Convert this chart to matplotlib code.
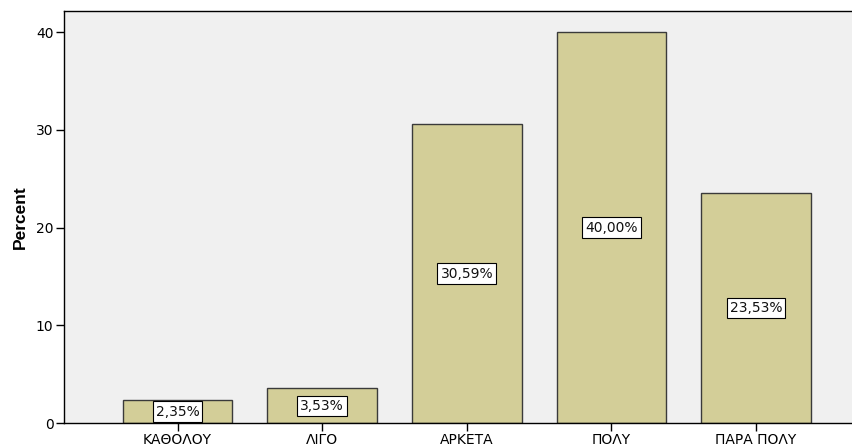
import matplotlib
matplotlib.use("Agg")
import matplotlib.pyplot as plt

categories = ["ΚΑΘΟΛΟΥ", "ΛΙΓΟ", "ΑΡΚΕΤΑ", "ΠΟΛΥ", "ΠΑΡΑ ΠΟΛΥ"]
percent = [2.35, 3.53, 30.59, 40.00, 23.53]
y_ticks = [0, 10, 20, 30, 40]

plt.rcParams["font.family"] = ["DejaVu Sans"]

fig = plt.figure(figsize=(8.53, 4.48), dpi=100)
ax = fig.add_axes([0.075, 0.0558, 0.93, 0.9196])
ax.set_facecolor("#F0F0F0")

x = list(range(len(categories)))
ax.bar(x, percent, width=0.757, color="#D3CE98", edgecolor="#3A3A3A", linewidth=1.0, zorder=2)

for xi, v in zip(x, percent):
    label = f"{v:.2f}%".replace(".", ",")
    ax.text(xi, v / 2, label, ha="center", va="center", fontsize=10, color="#111111", zorder=3,
            bbox=dict(boxstyle="square,pad=0.22", facecolor="white", edgecolor="black", linewidth=0.8))

ax.set_xlim(-0.785, 4.7)
ax.set_ylim(0, 42.15)
ax.set_xticks(x)
ax.set_xticklabels(categories, fontsize=10, color="#111111")
ax.set_yticks(y_ticks)
ax.set_yticklabels([str(t) for t in y_ticks], fontsize=10, color="#111111")
ax.tick_params(axis="both", direction="out", length=6, width=1, colors="black", pad=1.5)
ax.set_ylabel("Percent", fontsize=12.5, fontweight="bold", labelpad=6,
              family=["Liberation Sans", "DejaVu Sans"])

for s in ax.spines.values():
    s.set_color("black")
    s.set_linewidth(1.0)

fig.savefig("out.png", dpi=100)
